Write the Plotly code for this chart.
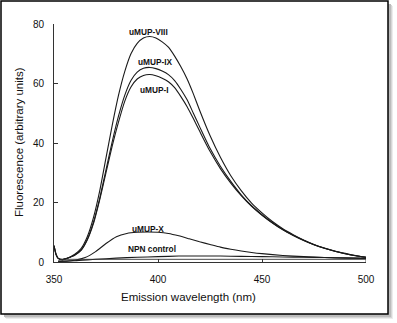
import plotly.graph_objects as go

# ---------------- data ----------------
wl = [350, 351, 352, 354, 356, 358, 360, 363, 366, 369, 372, 375, 378, 381, 384, 387,
      390, 393, 396, 399, 402, 405, 408, 411, 414, 417, 420, 425, 430, 435, 440, 445,
      450, 455, 460, 465, 470, 475, 480, 485, 490, 495, 500]

umup_viii = [5.5, 2.5, 1.2, 0.8, 1.2, 1.8, 2.6, 4.5, 8.5, 15, 24, 35, 46, 56, 64, 70,
             73.5, 75.3, 75.8, 75.3, 74.0, 72.2, 69.2, 65.6, 61.5, 56.5, 51, 42.5, 35.2, 29, 24, 19.8,
             16.5, 13.6, 11.2, 9.2, 7.4, 5.9, 4.7, 3.7, 2.9, 2.2, 1.6]

umup_ix = [5.5, 2.5, 1.2, 0.8, 1.2, 1.7, 2.4, 4.0, 7.6, 13.5, 21.5, 31, 40.5, 49, 56, 61,
           63.8, 65.1, 65.4, 65.0, 64.2, 63.0, 61.0, 58.0, 54.5, 50.0, 45.5, 38.2, 32.2, 27.1, 22.6, 18.9,
           15.9, 13.2, 10.9, 9.0, 7.3, 5.8, 4.6, 3.6, 2.8, 2.1, 1.6]

umup_i = [5.5, 2.5, 1.2, 0.8, 1.2, 1.7, 2.3, 3.9, 7.4, 13, 21, 30, 39, 47, 54, 58.8,
          61.5, 62.7, 63.0, 62.6, 61.8, 60.6, 58.6, 55.6, 52.2, 48.2, 44.0, 37.2, 31.4, 26.5, 22.3, 18.7,
          15.7, 13.1, 10.8, 8.9, 7.2, 5.8, 4.6, 3.6, 2.8, 2.1, 1.6]

wl_x = [352, 356, 360, 365, 370, 375, 380, 385, 390, 395, 400, 405, 410, 415, 420, 425,
        430, 435, 440, 445, 450, 460, 470, 480, 490, 500]
umup_x = [0.3, 0.3, 0.6, 1.5, 3.5, 6.2, 8.5, 9.6, 10.0, 10.1, 10.0, 9.6, 8.8, 7.8, 6.8, 5.9,
          5.0, 4.3, 3.7, 3.2, 2.8, 2.2, 1.8, 1.5, 1.3, 1.2]

wl_npn = [352, 360, 370, 380, 390, 400, 410, 420, 430, 440, 450, 460, 470, 480, 490, 500]
npn_control = [0.2, 0.4, 0.9, 1.3, 1.6, 1.8, 2.0, 2.0, 2.0, 1.9, 1.8, 1.7, 1.6, 1.5, 1.4, 1.3]

wl_base = [353, 500, 500]
baseline = [0.9, 0.9, 0.0]

labels = ["uMUP-VIII", "uMUP-IX", "uMUP-I", "uMUP-X", "NPN control"]
label_x = [395.5, 399.0, 398.5, 395.0, 397.0]
label_y = [77.3, 67.2, 57.8, 11.1, 4.4]

x_ticks = [350, 400, 450, 500]
y_ticks = [0, 20, 40, 60, 80]

# ---------------- layout geometry ----------------
W, H = 397, 323
L, R, T, B = 54, 31, 24, 61
pw, ph = W - L - R, H - T - B


def px(x):
    return (x - L) / pw


def py(y):
    return (H - B - y) / ph


FONT = "Liberation Sans, Arial, Helvetica, sans-serif"
LINE = dict(color="#1a1a1a", width=1.1, shape="spline", smoothing=0.6)

fig = go.Figure()
for xs, ys, name in [(wl, umup_viii, "uMUP-VIII"), (wl, umup_ix, "uMUP-IX"),
                     (wl, umup_i, "uMUP-I"), (wl_x, umup_x, "uMUP-X"),
                     (wl_npn, npn_control, "NPN control")]:
    fig.add_trace(go.Scatter(x=xs, y=ys, mode="lines", name=name, line=LINE,
                             showlegend=False, cliponaxis=False))
fig.add_trace(go.Scatter(x=wl_base, y=baseline, mode="lines", name="baseline",
                         line=dict(color="#333333", width=0.9), showlegend=False))

for t, xv, yv in zip(labels, label_x, label_y):
    fig.add_annotation(x=xv, y=yv, text="<b>" + t + "</b>", showarrow=False,
                       font=dict(family=FONT, size=8.3, color="#111111"),
                       xanchor="center", yanchor="middle")

# axis titles (positioned like the reference)
fig.add_annotation(xref="paper", yref="paper", x=px(188), y=py(297),
                   text="Emission wavelength (nm)", showarrow=False,
                   font=dict(family=FONT, size=11.5, color="#111111"),
                   xanchor="center", yanchor="middle")
fig.add_annotation(xref="paper", yref="paper", x=px(19), y=py(142),
                   text="Fluorescence (arbitrary units)", showarrow=False, textangle=-90,
                   font=dict(family=FONT, size=11.5, color="#111111"),
                   xanchor="center", yanchor="middle")

# frame with drop shadow
shadow_cols = ["#ececec", "#d6d6d6", "#bcbcbc"]
for i, c in enumerate(shadow_cols):
    off = 5 - i
    fig.add_shape(type="rect", xref="paper", yref="paper", layer="below",
                  x0=px(1 + off), x1=px(388 + off), y0=py(1 + off), y1=py(314 + off),
                  line=dict(width=0), fillcolor=c)
fig.add_shape(type="rect", xref="paper", yref="paper", layer="below",
              x0=px(1), x1=px(388), y0=py(1), y1=py(314),
              line=dict(color="#000000", width=1.5), fillcolor="white")

fig.update_layout(
    width=W, height=H,
    margin=dict(l=L, r=R, t=T, b=B, pad=0),
    paper_bgcolor="white", plot_bgcolor="rgba(0,0,0,0)",
    font=dict(family=FONT, size=10, color="#111111"),
)
fig.update_xaxes(range=[350, 500], tickvals=x_ticks, ticktext=[str(v) for v in x_ticks],
                 showgrid=False, zeroline=False, showline=True, linecolor="#333333", linewidth=1,
                 ticks="inside", ticklen=3, tickcolor="#333333", tickwidth=1,
                 ticklabelstandoff=8, tickfont=dict(size=10))
fig.update_yaxes(range=[0, 80], tickvals=y_ticks, ticktext=[str(v) for v in y_ticks],
                 showgrid=False, zeroline=False, showline=True, linecolor="#333333", linewidth=1,
                 ticks="inside", ticklen=4, tickcolor="#333333", tickwidth=1,
                 ticklabelstandoff=7, tickfont=dict(size=10))

fig.write_html("out.html")
